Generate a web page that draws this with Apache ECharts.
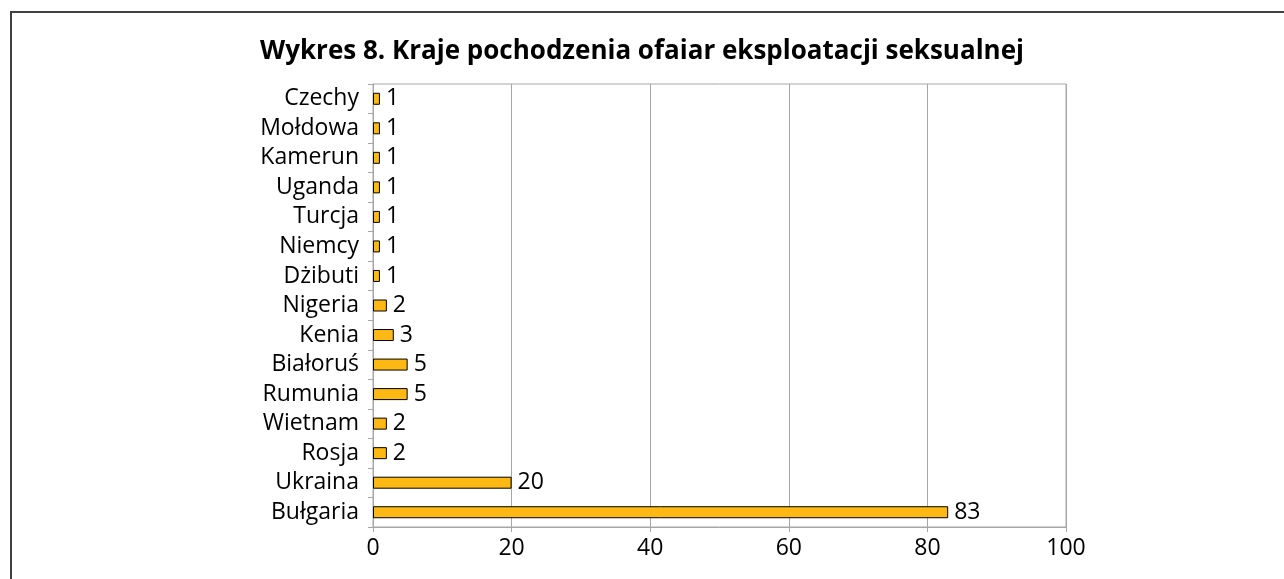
<!DOCTYPE html>
<html>
<head>
<meta charset="utf-8">
<script src="https://cdn.jsdelivr.net/npm/echarts@6/dist/echarts.min.js"></script>
<style>
  html, body { margin: 0; padding: 0; background: #fff; }
  #frame { position: absolute; left: 10px; top: 11px; width: 1300px; height: 600px;
           border-top: 2px solid #404040; border-left: 2px solid #404040; box-sizing: border-box; }
  #chart { position: absolute; left: 0; top: 0; width: 1284px; height: 579px; }
</style>
</head>
<body>
<div id="frame"></div>
<div id="chart"></div>
<script>
// countries listed bottom to top (as the axis draws them)
var countries = ["Bułgaria", "Ukraina", "Rosja", "Wietnam", "Rumunia", "Białoruś", "Kenia",
  "Nigeria", "Dżibuti", "Niemcy", "Turcja", "Uganda", "Kamerun", "Mołdowa", "Czechy"];
var victims = [83, 20, 2, 2, 5, 5, 3, 2, 1, 1, 1, 1, 1, 1, 1];
var xTicks = [0, 20, 40, 60, 80, 100];

var font = "'Open Sans', 'Noto Sans', sans-serif";
var myChart = echarts.init(document.getElementById("chart"));
myChart.setOption({
  animation: false,
  title: {
    text: "Wykres 8. Kraje pochodzenia ofaiar eksploatacji seksualnej",
    left: "center",
    top: 34,
    textStyle: { fontFamily: font, fontSize: 26, fontWeight: "bold", color: "#000" }
  },
  grid: {
    left: 373, right: 218, top: 84, bottom: 52,
    show: true, borderColor: "#a6a6a6", borderWidth: 1
  },
  xAxis: {
    type: "value",
    min: xTicks[0],
    max: xTicks[xTicks.length - 1],
    interval: 20,
    axisLine: { show: true, lineStyle: { color: "#a6a6a6" } },
    axisTick: { show: true, length: 5, lineStyle: { color: "#a6a6a6" } },
    splitLine: { show: true, lineStyle: { color: "#a6a6a6" } },
    axisLabel: { fontFamily: font, fontSize: 23, color: "#000", margin: 10 }
  },
  yAxis: {
    type: "category",
    data: countries,
    axisLine: { show: true, lineStyle: { color: "#a6a6a6" } },
    axisTick: { show: true, length: 5, lineStyle: { color: "#a6a6a6" } },
    axisLabel: { fontFamily: font, fontSize: 23, lineHeight: 24, color: "#000", margin: 14, interval: 0 }
  },
  series: [
    {
      type: "bar",
      data: victims,
      barWidth: 12,
      itemStyle: { color: "#fdb813", borderColor: "#000", borderWidth: 1 },
      label: {
        show: true,
        position: "right",
        distance: 6,
        fontFamily: font,
        fontSize: 23,
        color: "#000"
      }
    }
  ]
});
</script>
</body>
</html>
